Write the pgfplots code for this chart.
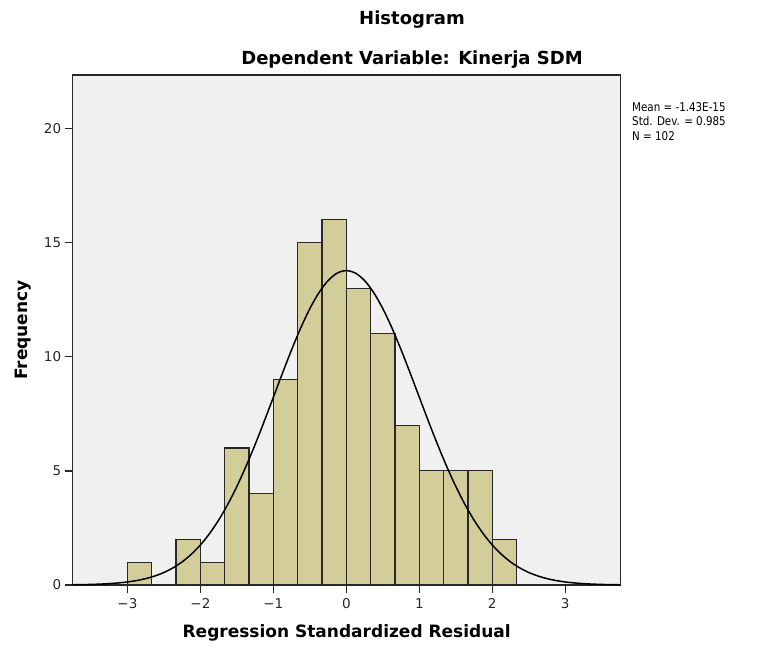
\documentclass[border=0pt]{standalone}
\usepackage{pgfplots}
\pgfplotsset{compat=1.18}
\usepackage{fontspec}
\setmainfont{DejaVu Sans}
\newfontfamily\statfont[FakeStretch=0.86]{DejaVu Sans}
\definecolor{bg}{RGB}{240,240,240}
\definecolor{barfill}{RGB}{211,206,153}
\definecolor{edge}{RGB}{40,40,40}
\begin{document}
\begin{tikzpicture}
\path[use as bounding box] (-72.7pt,-65pt) rectangle (695.3pt,585pt);
\begin{axis}[
  at={(0pt,0pt)}, anchor=south west,
  scale only axis, width=548pt, height=510pt,
  xmin=-3.75, xmax=3.76, ymin=0, ymax=22.34,
  axis background/.style={fill=bg},
  axis line style={edge, line width=1.5pt},
  xtick={-3,-2,-1,0,1,2,3},
  xticklabels={−3,−2,−1,0,1,2,3},
  ytick={0,5,10,15,20},
  tick align=outside, tick pos=left,
  major tick length=8pt,
  tick style={edge, line width=1.3pt},
  /pgf/number format/assume math mode=true,
  ticklabel style={font=\fontsize{13.5}{15}\selectfont, text=black!85},
  xticklabel style={yshift=-2pt},
  xlabel={Regression Standardized Residual},
  ylabel={Frequency},
  label style={font=\bfseries\fontsize{17}{20}\selectfont},
  xlabel style={at={(axis description cs:0.5,-0.094)}, anchor=center},
  ylabel style={at={(axis description cs:-0.0912,0.5)}, anchor=center},
  clip mode=individual,
]
\addplot[ybar interval, fill=barfill, draw=edge, line width=1.2pt] coordinates {
(-3,1) (-2.6667,0) (-2.3333,2) (-2,1) (-1.6667,6) (-1.3333,4) (-1,9)
(-0.6667,15) (-0.3333,16) (0,13) (0.3333,11) (0.6667,7) (1,5)
(1.3333,5) (1.6667,5) (2,2) (2.3333,2)
};
\addplot[smooth, black, line width=1.5pt] coordinates {
(-3.75,0.0098) (-3.625,0.0158) (-3.5,0.0250) (-3.375,0.0389) (-3.25,0.0596)
(-3.125,0.0898) (-3,0.1332) (-2.875,0.1945) (-2.75,0.2795) (-2.625,0.3951)
(-2.5,0.5497) (-2.375,0.7525) (-2.25,1.0137) (-2.125,1.3438) (-2,1.753)
(-1.875,2.250) (-1.75,2.842) (-1.625,3.532) (-1.5,4.319) (-1.375,5.198)
(-1.25,6.155) (-1.125,7.173) (-1,8.226) (-0.875,9.281) (-0.75,10.306)
(-0.625,11.260) (-0.5,12.106) (-0.375,12.808) (-0.25,13.334) (-0.125,13.661)
(0,13.771)
(0.125,13.661) (0.25,13.334) (0.375,12.808) (0.5,12.106) (0.625,11.260)
(0.75,10.306) (0.875,9.281) (1,8.226) (1.125,7.173) (1.25,6.155)
(1.375,5.198) (1.5,4.319) (1.625,3.532) (1.75,2.842) (1.875,2.250)
(2,1.753) (2.125,1.3438) (2.25,1.0137) (2.375,0.7525) (2.5,0.5497)
(2.625,0.3951) (2.75,0.2795) (2.875,0.1945) (3,0.1332) (3.125,0.0898)
(3.25,0.0596) (3.375,0.0389) (3.5,0.0250) (3.625,0.0158) (3.75,0.0098)
};
\end{axis}
\node[font=\bfseries\fontsize{18}{21}\selectfont, anchor=center] at (339.3pt,565pt) {Histogram};
\node[font=\bfseries\fontsize{18}{21}\selectfont, anchor=center] at (339.3pt,525pt) {Dependent Variable: Kinerja SDM};
\node[font=\statfont\fontsize{12}{14.5}\selectfont, anchor=north west, align=left, inner sep=0pt] at (559.3pt,483pt) {Mean = -1.43E-15\\Std. Dev. = 0.985\\N = 102};
\end{tikzpicture}
\end{document}
